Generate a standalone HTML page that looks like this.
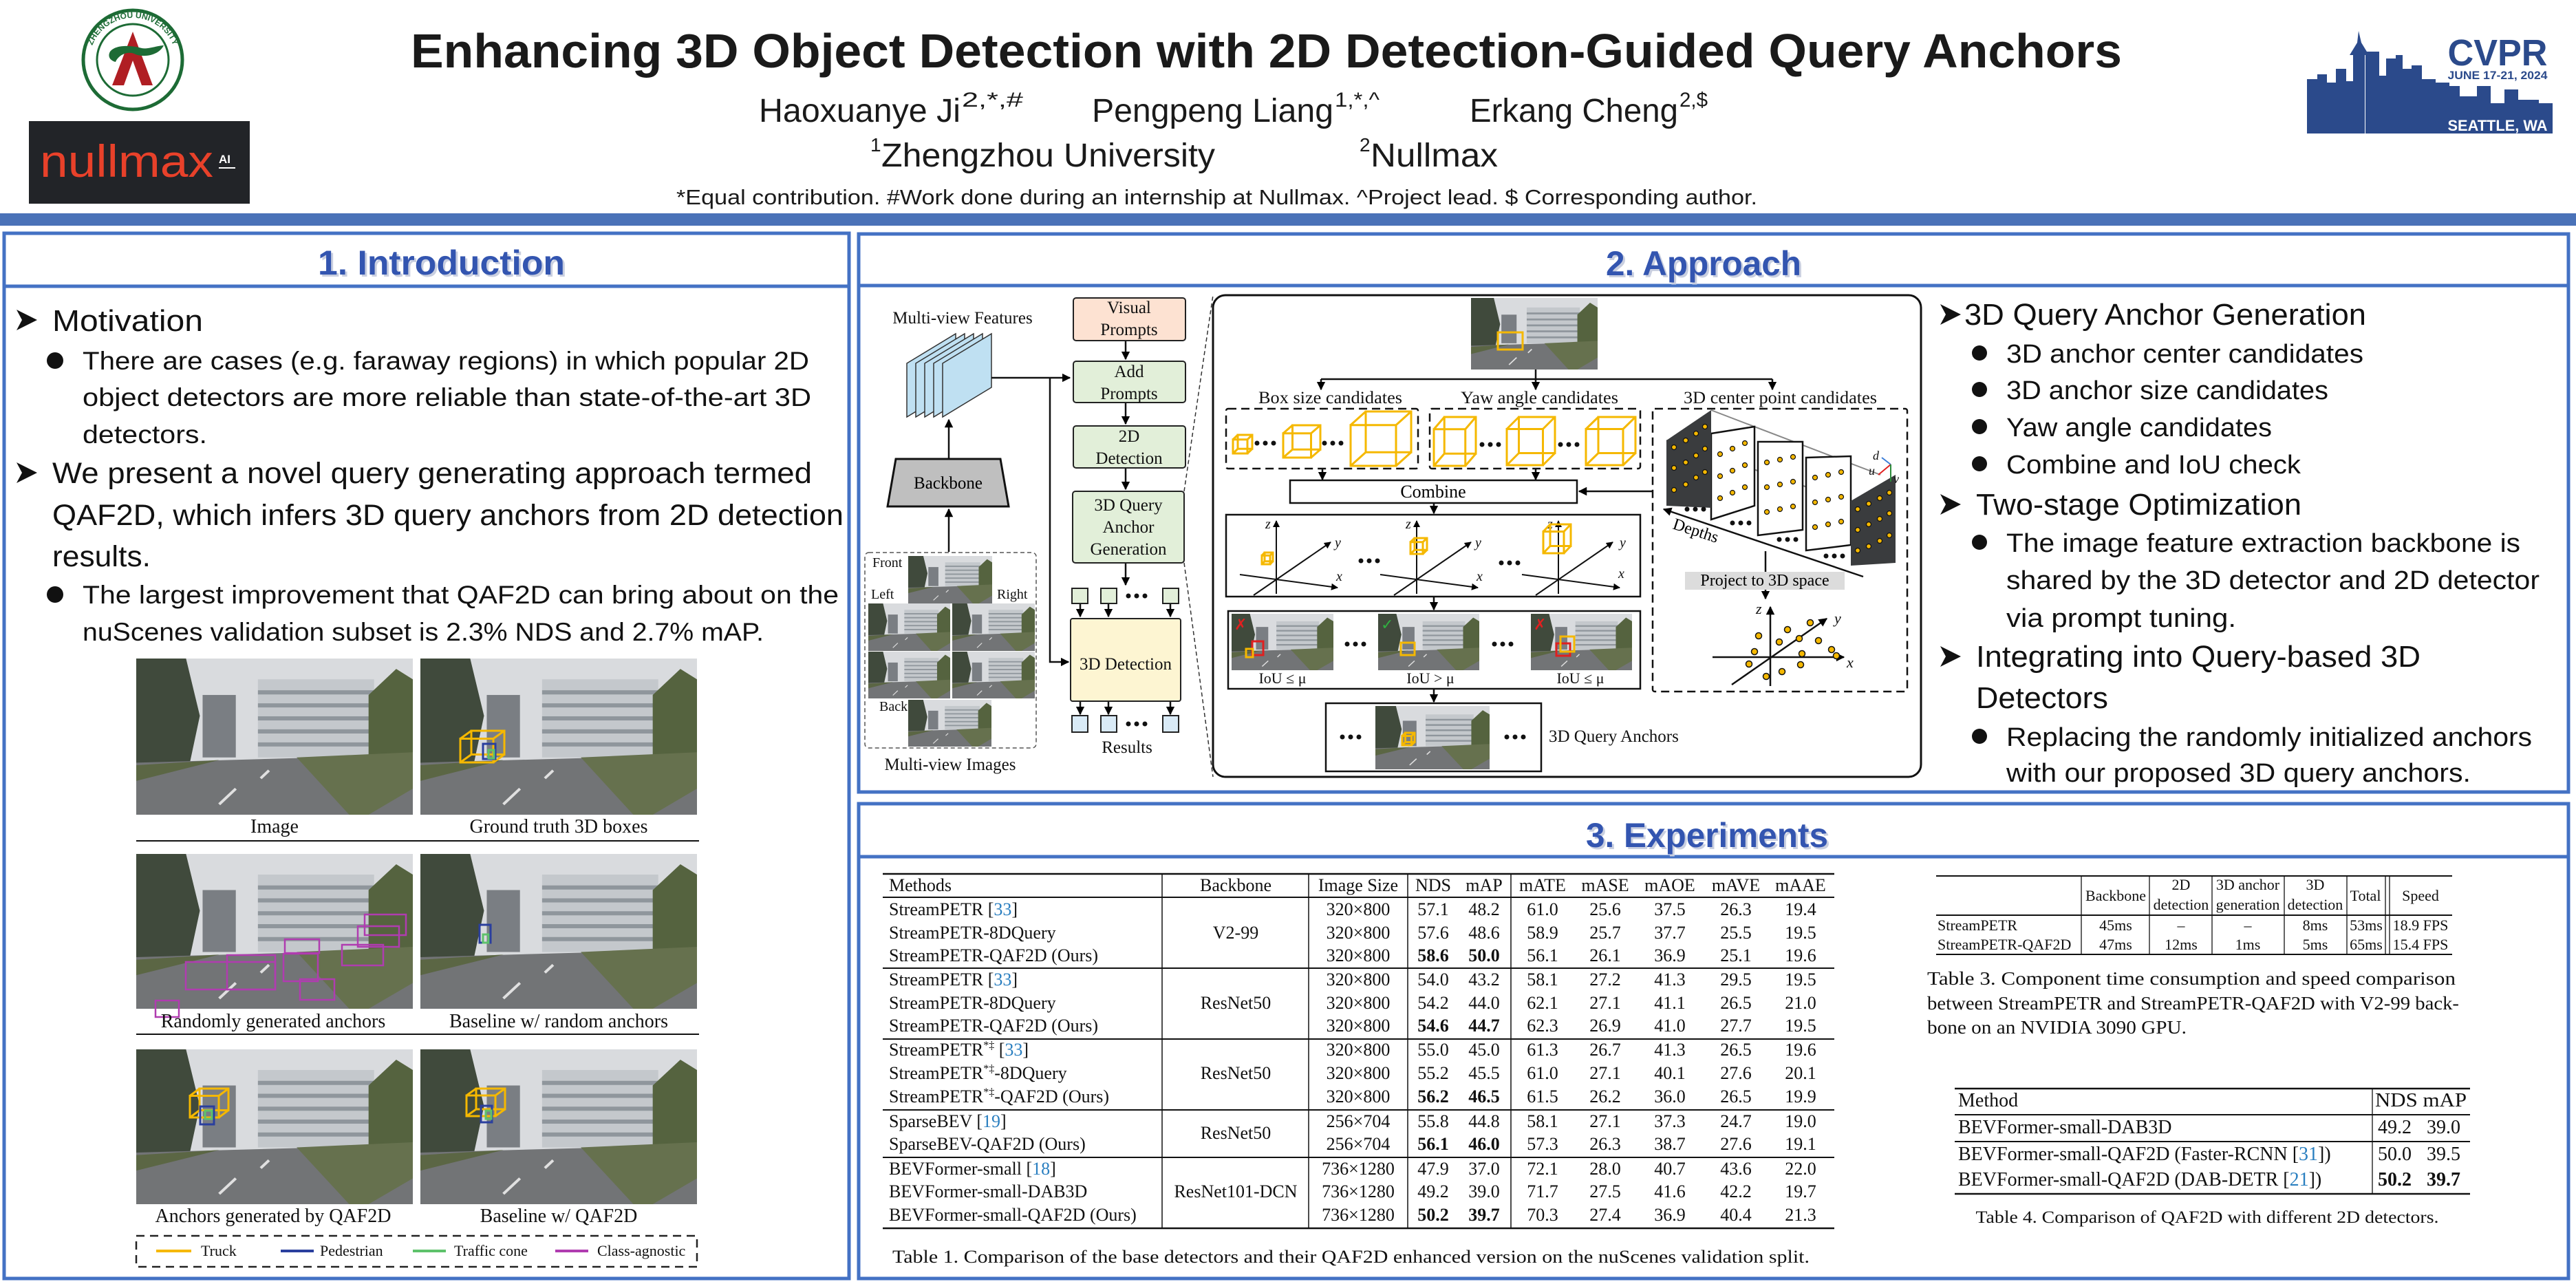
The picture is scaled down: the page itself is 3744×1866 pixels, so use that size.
<!DOCTYPE html>
<html><head><meta charset="utf-8"><style>html,body{margin:0;padding:0;background:#fff}svg{display:block}</style></head>
<body>
<svg xmlns="http://www.w3.org/2000/svg" xmlns:xlink="http://www.w3.org/1999/xlink" width="3744" height="1866" viewBox="0 0 3744 1866">
<defs>
<marker id="ah" viewBox="0 0 10 10" refX="9" refY="5" markerWidth="5" markerHeight="5" orient="auto-start-reverse"><path d="M0,0L10,5L0,10z" fill="#000"/></marker>
<symbol id="ph" viewBox="0 0 100 60" preserveAspectRatio="none">
<rect width="100" height="60" fill="#d9dbde"/>
<rect x="44" y="8" width="42" height="30" fill="#c4c8cc"/>
<path d="M44,13H86M44,18H86M44,23H86M44,28H86M44,33H86" stroke="#8f969c" stroke-width="1.6"/>
<rect x="24" y="14" width="12" height="24" fill="#7a7e83"/>
<path d="M0,0H18L23,22L19,42H0z" fill="#404a3c"/>
<path d="M84,14L94,4L100,8V40H84z" fill="#55633f"/>
<path d="M0,40L100,37V60H0z" fill="#727476"/>
<path d="M58,38L100,36V50L84,60H77z" fill="#66714e"/>
<path d="M0,41L30,39L0,47z" fill="#5b6644"/>
<path d="M30,56L36,50M45,46L48,43" stroke="#e0e0e0" stroke-width="1"/>
</symbol>
<g id="cube"><path d="M0,.25H.75V1H0Z M.25,0H1V.75H.25Z M0,.25L.25,0 M.75,.25L1,0 M0,1L.25,.75 M.75,1L1,.75" fill="none" stroke="#f5b800" stroke-width="3" vector-effect="non-scaling-stroke"/></g>
<g id="dots3"><circle cx="0" cy="0" r="3.5"/><circle cx="12" cy="0" r="3.5"/><circle cx="24" cy="0" r="3.5"/></g>
<path id="arc" d="M131,100A63,63 0 1 1 255,100"/>
</defs>

<!-- HEADER -->
<circle cx="193" cy="87" r="72" fill="#fff" stroke="#1d6b35" stroke-width="5"/>
<circle cx="193" cy="87" r="52" fill="none" stroke="#1d6b35" stroke-width="3"/>
<path d="M193,46L222,124H206L193,88L180,124H163z" fill="#b01e23"/>
<path d="M160,75C170,62,200,68,206,70C214,72,230,66,238,66C230,82,206,84,195,78C185,74,172,80,168,90C160,88,156,82,160,75z" fill="#1d6b35"/>
<text font-family="Liberation Sans, sans-serif" font-size="12" font-weight="bold" fill="#1d6b35"><textPath href="#arc" startOffset="50%" text-anchor="middle">ZHENGZHOU UNIVERSITY</textPath></text>
<rect x="42" y="176" width="321" height="120" fill="#222428"/>
<text x="58" y="257" font-family="Liberation Sans, sans-serif" font-size="66" fill="#e8412a" textLength="252" lengthAdjust="spacingAndGlyphs">nullmax</text>
<text x="318" y="237" font-family="Liberation Sans, sans-serif" font-size="17" font-weight="bold" fill="#fff">AI</text>
<rect x="318" y="243" width="24" height="2" fill="#fff"/>

<g fill="#2b4a8b">
<path d="M3353,194V115H3368V108H3382V120H3395V100H3410V118H3420V80H3415L3426,62L3428,45L3432,62L3443,80H3437V194z"/>
<path d="M3438,194V75H3458V110H3468V85H3482V80H3492V100H3505V95H3520V115H3540V120H3560V125H3575V140H3600V125H3620V150H3640V130H3660V145H3690V150H3710V194z"/>
</g>
<text x="3630" y="95" font-family="Liberation Sans, sans-serif" font-size="54" font-weight="bold" fill="#2b4a8b" text-anchor="middle" textLength="145" lengthAdjust="spacingAndGlyphs">CVPR</text>
<rect x="3555" y="98" width="150" height="22" fill="#fff"/>
<text x="3630" y="115" font-family="Liberation Sans, sans-serif" font-size="17" font-weight="bold" fill="#2b4a8b" text-anchor="middle" textLength="145" lengthAdjust="spacingAndGlyphs">JUNE 17-21, 2024</text>
<text x="3630" y="190" font-family="Liberation Sans, sans-serif" font-size="22" font-weight="bold" fill="#fff" text-anchor="middle" textLength="145" lengthAdjust="spacingAndGlyphs">SEATTLE, WA</text>

<text x="597" y="98" font-family="Liberation Sans, sans-serif" font-size="70" font-weight="bold" fill="#1a1a1a" textLength="2487" lengthAdjust="spacingAndGlyphs">Enhancing 3D Object Detection with 2D Detection-Guided Query Anchors</text>
<g font-family="Liberation Sans, sans-serif" fill="#1a1a1a">
<text x="1103" y="177" font-size="48" textLength="293" lengthAdjust="spacingAndGlyphs">Haoxuanye Ji</text>
<text x="1398" y="155" font-size="30" textLength="89" lengthAdjust="spacingAndGlyphs">2,*,#</text>
<text x="1587" y="177" font-size="48" textLength="351" lengthAdjust="spacingAndGlyphs">Pengpeng Liang</text>
<text x="1940" y="155" font-size="30" textLength="65" lengthAdjust="spacingAndGlyphs">1,*,^</text>
<text x="2136" y="177" font-size="48" textLength="303" lengthAdjust="spacingAndGlyphs">Erkang Cheng</text>
<text x="2441" y="155" font-size="30" textLength="41" lengthAdjust="spacingAndGlyphs">2,$</text>
<text x="1265" y="220" font-size="28">1</text>
<text x="1281" y="242" font-size="48" textLength="485" lengthAdjust="spacingAndGlyphs">Zhengzhou University</text>
<text x="1976" y="220" font-size="28">2</text>
<text x="1992" y="242" font-size="48" textLength="185" lengthAdjust="spacingAndGlyphs">Nullmax</text>
<text x="983" y="297" font-size="31" textLength="1571" lengthAdjust="spacingAndGlyphs">*Equal contribution.    #Work done during an internship at Nullmax.    ^Project lead.    $ Corresponding author.</text>
</g>
<rect x="0" y="310" width="3744" height="18" fill="#4a72b8"/>

<!-- PANELS -->
<g fill="none" stroke="#4472c4" stroke-width="5">
<rect x="6" y="339" width="1228" height="1519"/>
<line x1="6" y1="416" x2="1234" y2="416"/>
<rect x="1248" y="340" width="2485" height="811"/>
<line x1="1248" y1="415" x2="3733" y2="415"/>
<rect x="1248" y="1168" width="2485" height="690"/>
<line x1="1248" y1="1245" x2="3733" y2="1245"/>
</g>
<g font-family="Liberation Sans, sans-serif" font-size="50" font-weight="bold">
<text x="465" y="402" fill="#c9cfe0" textLength="359" lengthAdjust="spacingAndGlyphs">1. Introduction</text>
<text x="462" y="399" fill="#3355b0" textLength="359" lengthAdjust="spacingAndGlyphs">1. Introduction</text>
<text x="2337" y="403" fill="#c9cfe0" textLength="284" lengthAdjust="spacingAndGlyphs">2. Approach</text>
<text x="2334" y="400" fill="#3355b0" textLength="284" lengthAdjust="spacingAndGlyphs">2. Approach</text>
<text x="2308" y="1234" fill="#c9cfe0" textLength="352" lengthAdjust="spacingAndGlyphs">3. Experiments</text>
<text x="2305" y="1231" fill="#3355b0" textLength="352" lengthAdjust="spacingAndGlyphs">3. Experiments</text>
</g>

<!-- INTRO TEXT -->
<g fill="#111">
<path d="M24,450L54,465L24,480L32,465z"/>
<path d="M24,672L54,687L24,702L32,687z"/>
<circle cx="80" cy="524" r="12"/>
<circle cx="80" cy="864" r="12"/>
</g>
<g font-family="Liberation Sans, sans-serif" fill="#111">
<text x="76" y="481" font-size="44" textLength="219" lengthAdjust="spacingAndGlyphs">Motivation</text>
<text x="120" y="537" font-size="37" textLength="1056" lengthAdjust="spacingAndGlyphs">There are cases (e.g. faraway regions) in which popular 2D</text>
<text x="120" y="590" font-size="37" textLength="1059" lengthAdjust="spacingAndGlyphs">object detectors are more reliable than state-of-the-art 3D</text>
<text x="120" y="644" font-size="37" textLength="181" lengthAdjust="spacingAndGlyphs">detectors.</text>
<text x="76" y="702" font-size="43" textLength="1104" lengthAdjust="spacingAndGlyphs">We present a novel query generating approach termed</text>
<text x="76" y="763" font-size="43" textLength="1150" lengthAdjust="spacingAndGlyphs">QAF2D, which infers 3D query anchors from 2D detection</text>
<text x="76" y="823" font-size="43" textLength="143" lengthAdjust="spacingAndGlyphs">results.</text>
<text x="120" y="877" font-size="37" textLength="1099" lengthAdjust="spacingAndGlyphs">The largest improvement that QAF2D can bring about on the</text>
<text x="120" y="931" font-size="37" textLength="990" lengthAdjust="spacingAndGlyphs">nuScenes validation subset is 2.3% NDS and 2.7% mAP.</text>
</g>

<!-- INTRO IMAGES -->
<use href="#ph" x="198" y="957" width="402" height="227"/>
<use href="#ph" x="611" y="957" width="402" height="227"/>
<use href="#ph" x="198" y="1241" width="402" height="225"/>
<use href="#ph" x="611" y="1241" width="402" height="225"/>
<use href="#ph" x="198" y="1525" width="402" height="225"/>
<use href="#ph" x="611" y="1525" width="402" height="225"/>
<use href="#cube" transform="translate(669,1062) scale(64,46)"/>
<rect x="702" y="1081" width="18" height="22" fill="none" stroke="#2a3f9e" stroke-width="3"/>
<rect x="710" y="1090" width="8" height="12" fill="none" stroke="#5ec26b" stroke-width="3"/>
<g fill="none" stroke="#b03cb0" stroke-width="2.5">
<rect x="226" y="1454" width="34" height="24"/><rect x="270" y="1398" width="130" height="40"/><rect x="330" y="1388" width="70" height="50"/><rect x="414" y="1365" width="50" height="20"/><rect x="412" y="1386" width="50" height="40"/><rect x="497" y="1373" width="60" height="30"/><rect x="530" y="1329" width="60" height="30"/><rect x="520" y="1346" width="60" height="30"/><rect x="436" y="1423" width="50" height="30"/>
</g>
<rect x="697" y="1344" width="16" height="26" fill="none" stroke="#2a3f9e" stroke-width="3"/>
<rect x="702" y="1358" width="8" height="12" fill="none" stroke="#5ec26b" stroke-width="3"/>
<use href="#cube" transform="translate(276,1582) scale(56,42)"/>
<rect x="291" y="1608" width="20" height="26" fill="none" stroke="#2a3f9e" stroke-width="3"/>
<rect x="298" y="1614" width="10" height="12" fill="none" stroke="#5ec26b" stroke-width="3"/>
<use href="#cube" transform="translate(678,1582) scale(56,40)"/>
<rect x="699" y="1607" width="16" height="24" fill="none" stroke="#2a3f9e" stroke-width="3"/>
<rect x="706" y="1614" width="8" height="12" fill="none" stroke="#5ec26b" stroke-width="3"/>
<g font-family="Liberation Serif, serif" font-size="28" fill="#111" text-anchor="middle">
<text x="399" y="1210">Image</text>
<text x="812" y="1210">Ground truth 3D boxes</text>
<text x="397" y="1493">Randomly generated anchors</text>
<text x="812" y="1493">Baseline w/ random anchors</text>
<text x="397" y="1776">Anchors generated by QAF2D</text>
<text x="812" y="1776">Baseline w/ QAF2D</text>
</g>
<g stroke="#111" stroke-width="2"><line x1="198" y1="1222" x2="1016" y2="1222"/><line x1="198" y1="1503" x2="1016" y2="1503"/></g>
<rect x="198" y="1796" width="815" height="45" fill="none" stroke="#222" stroke-width="2.5" stroke-dasharray="12,8"/>
<g stroke-width="4"><line x1="227" y1="1818" x2="278" y2="1818" stroke="#f5b800"/><line x1="408" y1="1818" x2="456" y2="1818" stroke="#2a3f9e"/><line x1="600" y1="1818" x2="648" y2="1818" stroke="#5ec26b"/><line x1="807" y1="1818" x2="855" y2="1818" stroke="#b03cb0"/></g>
<g font-family="Liberation Serif, serif" font-size="22" fill="#111"><text x="292" y="1825">Truck</text><text x="465" y="1825">Pedestrian</text><text x="660" y="1825">Traffic cone</text><text x="868" y="1825">Class-agnostic</text></g>

<!-- APPROACH LEFT DIAGRAM -->
<g font-family="Liberation Serif, serif" font-size="25" fill="#111" text-anchor="middle">
<text x="1399" y="470">Multi-view Features</text>
<text x="1381" y="1119">Multi-view Images</text>
<text x="1638" y="1094">Results</text>
</g>
<g fill="#bfe0f2" stroke="#333" stroke-width="1.5">
<path d="M1318,528L1389,485V563L1318,606z"/><path d="M1331,528L1402,485V563L1331,606z"/><path d="M1344,528L1415,485V563L1344,606z"/><path d="M1357,528L1428,485V563L1357,606z"/><path d="M1370,528L1441,485V563L1370,606z"/>
</g>
<path d="M1302,667H1454L1466,736H1290z" fill="#bfbfbf" stroke="#111" stroke-width="3"/>
<text x="1378" y="710" font-family="Liberation Serif, serif" font-size="25" text-anchor="middle">Backbone</text>
<g stroke="#111" stroke-width="2.5" fill="none">
<line x1="1379" y1="802" x2="1379" y2="740" marker-end="url(#ah)"/>
<line x1="1379" y1="667" x2="1379" y2="610" marker-end="url(#ah)"/>
<line x1="1441" y1="549" x2="1555" y2="549" marker-end="url(#ah)"/>
<polyline points="1526,549 1526,962 1553,962" marker-end="url(#ah)"/>
<line x1="1636" y1="495" x2="1636" y2="522" marker-end="url(#ah)"/>
<line x1="1636" y1="585" x2="1636" y2="616" marker-end="url(#ah)"/>
<line x1="1636" y1="680" x2="1636" y2="711" marker-end="url(#ah)"/>
<line x1="1636" y1="818" x2="1636" y2="850" marker-end="url(#ah)"/>
<line x1="1570" y1="877" x2="1570" y2="896" marker-end="url(#ah)"/>
<line x1="1611" y1="877" x2="1611" y2="896" marker-end="url(#ah)"/>
<line x1="1701" y1="877" x2="1701" y2="896" marker-end="url(#ah)"/>
<line x1="1570" y1="1019" x2="1570" y2="1038" marker-end="url(#ah)"/>
<line x1="1611" y1="1019" x2="1611" y2="1038" marker-end="url(#ah)"/>
<line x1="1701" y1="1019" x2="1701" y2="1038" marker-end="url(#ah)"/>
</g>
<rect x="1257" y="803" width="249" height="284" rx="6" fill="none" stroke="#555" stroke-width="1.5" stroke-dasharray="6,4"/>
<use href="#ph" x="1320" y="808" width="122" height="69"/>
<use href="#ph" x="1262" y="877" width="119" height="69"/>
<use href="#ph" x="1384" y="877" width="120" height="69"/>
<use href="#ph" x="1262" y="947" width="119" height="68"/>
<use href="#ph" x="1384" y="947" width="120" height="68"/>
<use href="#ph" x="1320" y="1017" width="121" height="68"/>
<g font-family="Liberation Serif, serif" font-size="20" fill="#111">
<text x="1268" y="824">Front</text><text x="1266" y="870">Left</text><text x="1449" y="870">Right</text><text x="1278" y="1033">Back</text>
</g>
<g stroke="#222" stroke-width="2">
<rect x="1560" y="433" width="163" height="62" rx="4" fill="#fde2d2"/>
<rect x="1560" y="525" width="163" height="60" rx="4" fill="#e2efd9"/>
<rect x="1560" y="619" width="163" height="61" rx="4" fill="#e2efd9"/>
<rect x="1559" y="714" width="162" height="104" rx="4" fill="#e2efd9"/>
<rect x="1556" y="899" width="160" height="120" rx="3" fill="#fdf5d2"/>
<rect x="1558" y="855" width="23" height="22" fill="#e2efd9"/><rect x="1600" y="855" width="23" height="22" fill="#e2efd9"/><rect x="1690" y="855" width="23" height="22" fill="#e2efd9"/>
<rect x="1558" y="1040" width="23" height="24" fill="#d9eaf6"/><rect x="1600" y="1040" width="23" height="24" fill="#d9eaf6"/><rect x="1690" y="1040" width="23" height="24" fill="#d9eaf6"/>
</g>
<g fill="#111"><use href="#dots3" x="1640" y="866"/><use href="#dots3" x="1640" y="1052"/></g>
<g font-family="Liberation Serif, serif" font-size="25" fill="#111" text-anchor="middle">
<text x="1641" y="455">Visual</text><text x="1641" y="487">Prompts</text>
<text x="1641" y="548">Add</text><text x="1641" y="580">Prompts</text>
<text x="1641" y="642">2D</text><text x="1641" y="674">Detection</text>
<text x="1640" y="742">3D Query</text><text x="1640" y="774">Anchor</text><text x="1640" y="806">Generation</text>
<text x="1636" y="973">3D Detection</text>
</g>
<g stroke="#333" stroke-width="1.5" stroke-dasharray="6,4"><line x1="1721" y1="714" x2="1763" y2="429"/><line x1="1721" y1="818" x2="1763" y2="1129"/></g>

<!-- APPROACH RIGHT DIAGRAM -->
<rect x="1763" y="429" width="1029" height="700" rx="18" fill="none" stroke="#111" stroke-width="3"/>
<use href="#ph" x="2138" y="433" width="184" height="104"/>
<rect x="2177" y="483" width="36" height="25" fill="none" stroke="#f5b800" stroke-width="3"/>
<g stroke="#111" stroke-width="2.5" fill="none">
<line x1="2232" y1="537" x2="2232" y2="551"/>
<line x1="1920" y1="551" x2="2576" y2="551"/>
<line x1="1920" y1="551" x2="1920" y2="566" marker-end="url(#ah)"/>
<line x1="2232" y1="551" x2="2232" y2="566" marker-end="url(#ah)"/>
<line x1="2576" y1="551" x2="2576" y2="566" marker-end="url(#ah)"/>
<line x1="1922" y1="681" x2="1922" y2="697" marker-end="url(#ah)"/>
<line x1="2232" y1="681" x2="2232" y2="697" marker-end="url(#ah)"/>
<line x1="2402" y1="714" x2="2295" y2="714" marker-end="url(#ah)"/>
<line x1="2084" y1="731" x2="2084" y2="746" marker-end="url(#ah)"/>
<line x1="2084" y1="867" x2="2084" y2="886" marker-end="url(#ah)"/>
<line x1="2084" y1="1001" x2="2084" y2="1020" marker-end="url(#ah)"/>
<line x1="2566" y1="801" x2="2566" y2="831"/>
<line x1="2566" y1="857" x2="2566" y2="870" marker-end="url(#ah)"/>
</g>
<g font-family="Liberation Serif, serif" font-size="25" fill="#111">
<text x="1829" y="586" textLength="209" lengthAdjust="spacingAndGlyphs">Box size candidates</text>
<text x="2123" y="586" textLength="229" lengthAdjust="spacingAndGlyphs">Yaw angle candidates</text>
<text x="2447" y="586" textLength="281" lengthAdjust="spacingAndGlyphs">3D center point candidates</text>
</g>
<g fill="none" stroke="#111" stroke-width="2.5" stroke-dasharray="12,7">
<rect x="1782" y="594" width="279" height="87" rx="3"/>
<rect x="2078" y="594" width="306" height="87" rx="3"/>
<rect x="2402" y="594" width="370" height="411" rx="3"/>
</g>
<use href="#cube" transform="translate(1792,632) scale(28,27)"/>
<use href="#cube" transform="translate(1865,618) scale(54,47)"/>
<use href="#cube" transform="translate(1963,598) scale(88,79)"/>
<use href="#cube" transform="translate(2084,606) scale(61,71)"/>
<use href="#cube" transform="translate(2190,606) scale(70,70)"/>
<use href="#cube" transform="translate(2305,606) scale(72,70)"/>
<g fill="#111"><use href="#dots3" x="1827" y="644"/><use href="#dots3" x="1925" y="644"/><use href="#dots3" x="2154" y="646"/><use href="#dots3" x="2268" y="646"/></g>
<rect x="1875" y="698" width="417" height="33" fill="#fff" stroke="#111" stroke-width="2.5"/>
<text x="2083" y="723" font-family="Liberation Serif, serif" font-size="26" text-anchor="middle">Combine</text>
<rect x="1782" y="748" width="602" height="119" fill="none" stroke="#111" stroke-width="2.5"/>
<g id="ax" stroke="#111" stroke-width="2" fill="none">
<line x1="1855" y1="863" x2="1855" y2="757" marker-end="url(#ah)"/>
<line x1="1802" y1="835" x2="1944" y2="854" marker-end="url(#ah)"/>
<line x1="1822" y1="865" x2="1934" y2="788" marker-end="url(#ah)"/>
</g>
<use href="#ax" x="204"/><use href="#ax" x="410"/>
<g font-family="Liberation Serif, serif" font-style="italic" font-size="20" fill="#111">
<text x="1839" y="768">z</text><text x="1940" y="795">y</text><text x="1942" y="844">x</text>
<text x="2043" y="768">z</text><text x="2144" y="795">y</text><text x="2146" y="844">x</text>
<text x="2249" y="768">z</text><text x="2354" y="795">y</text><text x="2352" y="840">x</text>
</g>
<use href="#cube" transform="translate(1834,803) scale(16,17)"/>
<use href="#cube" transform="translate(2050,782) scale(24,23)"/>
<use href="#cube" transform="translate(2243,762) scale(40,42)"/>
<g fill="#111"><use href="#dots3" x="1978" y="815"/><use href="#dots3" x="2182" y="818"/></g>
<rect x="1785" y="888" width="599" height="113" fill="none" stroke="#111" stroke-width="2.5"/>
<use href="#ph" x="1790" y="892" width="148" height="82"/>
<use href="#ph" x="2003" y="892" width="147" height="82"/>
<use href="#ph" x="2225" y="892" width="147" height="82"/>
<rect x="1820" y="932" width="16" height="20" fill="none" stroke="#e02020" stroke-width="3"/>
<rect x="1811" y="943" width="10" height="12" fill="none" stroke="#f5b800" stroke-width="3"/>
<rect x="2036" y="934" width="20" height="18" fill="none" stroke="#f5b800" stroke-width="3"/>
<rect x="2262" y="935" width="20" height="18" fill="none" stroke="#e02020" stroke-width="3"/>
<rect x="2268" y="925" width="20" height="22" fill="none" stroke="#f5b800" stroke-width="3"/>
<g font-family="DejaVu Sans, sans-serif" font-size="22" font-weight="bold"><text x="1794" y="915" fill="#e02020">✗</text><text x="2007" y="915" fill="#30b040">✓</text><text x="2229" y="915" fill="#e02020">✗</text></g>
<g fill="#111"><use href="#dots3" x="1958" y="936"/><use href="#dots3" x="2172" y="936"/></g>
<g font-family="Liberation Serif, 'DejaVu Sans', serif" font-size="22" fill="#111" text-anchor="middle">
<text x="1864" y="993">IoU ≤ μ</text><text x="2079" y="993">IoU &gt; μ</text><text x="2297" y="993">IoU ≤ μ</text>
</g>
<rect x="1927" y="1022" width="313" height="99" fill="none" stroke="#111" stroke-width="2.5"/>
<use href="#ph" x="1999" y="1026" width="166" height="92"/>
<use href="#cube" transform="translate(2038,1065) scale(18,18)"/>
<g fill="#111"><use href="#dots3" x="1951" y="1071"/><use href="#dots3" x="2190" y="1071"/></g>
<text x="2251" y="1078" font-family="Liberation Serif, serif" font-size="25" fill="#111">3D Query Anchors</text>

<!-- 3D center candidates -->
<g stroke="#888" stroke-width="2" fill="none">
<line x1="2487" y1="596" x2="2733" y2="690"/>
<line x1="2422" y1="640" x2="2690" y2="729"/>
</g>
<g stroke="#111" stroke-width="2.5" fill="#fff">
<path d="M2487,630L2550,620V735L2487,755z"/>
<path d="M2555,642L2620,642V770L2555,778z"/>
<path d="M2625,665L2690,663V792L2625,800z"/>
</g>
<path d="M2422,640L2487,596V738L2422,735z" fill="#3a3c3e"/>
<path d="M2690,728L2755,690V818L2690,822z" fill="#3a3c3e"/>
<g fill="#f5b800" stroke="#111" stroke-width="1.2">
<circle cx="2433" cy="650" r="3.5"/><circle cx="2450" cy="640" r="3.5"/><circle cx="2465" cy="630" r="3.5"/><circle cx="2478" cy="620" r="3.5"/><circle cx="2433" cy="680" r="3.5"/><circle cx="2450" cy="672" r="3.5"/><circle cx="2465" cy="662" r="3.5"/><circle cx="2478" cy="652" r="3.5"/><circle cx="2433" cy="712" r="3.5"/><circle cx="2450" cy="704" r="3.5"/><circle cx="2465" cy="694" r="3.5"/><circle cx="2478" cy="686" r="3.5"/>
<circle cx="2500" cy="660" r="3.5"/><circle cx="2518" cy="652" r="3.5"/><circle cx="2536" cy="644" r="3.5"/><circle cx="2500" cy="692" r="3.5"/><circle cx="2518" cy="684" r="3.5"/><circle cx="2536" cy="676" r="3.5"/><circle cx="2500" cy="724" r="3.5"/><circle cx="2518" cy="716" r="3.5"/><circle cx="2536" cy="708" r="3.5"/>
<circle cx="2568" cy="672" r="3.5"/><circle cx="2587" cy="668" r="3.5"/><circle cx="2606" cy="664" r="3.5"/><circle cx="2568" cy="708" r="3.5"/><circle cx="2587" cy="704" r="3.5"/><circle cx="2606" cy="700" r="3.5"/><circle cx="2568" cy="744" r="3.5"/><circle cx="2587" cy="740" r="3.5"/><circle cx="2606" cy="736" r="3.5"/>
<circle cx="2638" cy="694" r="3.5"/><circle cx="2657" cy="690" r="3.5"/><circle cx="2676" cy="686" r="3.5"/><circle cx="2638" cy="730" r="3.5"/><circle cx="2657" cy="726" r="3.5"/><circle cx="2676" cy="722" r="3.5"/><circle cx="2638" cy="766" r="3.5"/><circle cx="2657" cy="762" r="3.5"/><circle cx="2676" cy="758" r="3.5"/>
<circle cx="2700" cy="740" r="3.5"/><circle cx="2716" cy="732" r="3.5"/><circle cx="2732" cy="724" r="3.5"/><circle cx="2746" cy="716" r="3.5"/><circle cx="2700" cy="770" r="3.5"/><circle cx="2716" cy="762" r="3.5"/><circle cx="2732" cy="754" r="3.5"/><circle cx="2746" cy="746" r="3.5"/><circle cx="2700" cy="800" r="3.5"/><circle cx="2716" cy="794" r="3.5"/><circle cx="2732" cy="786" r="3.5"/><circle cx="2746" cy="778" r="3.5"/>
</g>
<line x1="2708" y1="838" x2="2418" y2="740" stroke="#111" stroke-width="2.5" marker-end="url(#ah)"/>
<text x="2430" y="768" font-family="Liberation Serif, serif" font-size="24" transform="rotate(18 2430 768)">Depths</text>
<g fill="#111"><use href="#dots3" x="2452" y="740"/><use href="#dots3" x="2518" y="760"/><use href="#dots3" x="2586" y="784"/><use href="#dots3" x="2654" y="808"/></g>
<rect x="2449" y="831" width="232" height="26" fill="#dcdcdc"/>
<text x="2565" y="851" font-family="Liberation Serif, serif" font-size="24" text-anchor="middle">Project to 3D space</text>
<g stroke="#111" stroke-width="2.5" fill="none">
<line x1="2573" y1="997" x2="2573" y2="882" marker-end="url(#ah)"/>
<line x1="2489" y1="955" x2="2680" y2="955" marker-end="url(#ah)"/>
<line x1="2517" y1="995" x2="2655" y2="899" marker-end="url(#ah)"/>
</g>
<g font-family="Liberation Serif, serif" font-style="italic" font-size="22" fill="#111"><text x="2552" y="892">z</text><text x="2666" y="906">y</text><text x="2684" y="970">x</text></g>
<g fill="#f5b800" stroke="#111" stroke-width="1.5">
<circle cx="2556" cy="924" r="4.5"/><circle cx="2550" cy="947" r="4.5"/><circle cx="2598" cy="915" r="4.5"/><circle cx="2586" cy="933" r="4.5"/><circle cx="2615" cy="928" r="4.5"/><circle cx="2631" cy="905" r="4.5"/><circle cx="2643" cy="931" r="4.5"/><circle cx="2619" cy="950" r="4.5"/><circle cx="2662" cy="944" r="4.5"/><circle cx="2669" cy="953" r="4.5"/><circle cx="2542" cy="965" r="4.5"/><circle cx="2617" cy="966" r="4.5"/><circle cx="2590" cy="976" r="4.5"/><circle cx="2567" cy="983" r="4.5"/>
</g>
<g stroke-width="2" fill="none"><line x1="2748" y1="675" x2="2735" y2="665" stroke="#3b7dd8"/><line x1="2748" y1="675" x2="2730" y2="690" stroke="#e02020"/><line x1="2748" y1="675" x2="2748" y2="700" stroke="#2a8a3a"/></g>
<g font-family="Liberation Serif, serif" font-style="italic" font-size="18" fill="#111"><text x="2722" y="668">d</text><text x="2716" y="690">u</text><text x="2752" y="702">v</text></g>

<!-- APPROACH RIGHT TEXT -->
<g fill="#111">
<path d="M2820,442L2850,457L2820,472L2828,457z"/>
<path d="M2820,718L2850,733L2820,748L2828,733z"/>
<path d="M2820,939L2850,954L2820,969L2828,954z"/>
<circle cx="2877" cy="513" r="11"/><circle cx="2877" cy="566" r="11"/><circle cx="2877" cy="620" r="11"/><circle cx="2877" cy="674" r="11"/><circle cx="2877" cy="788" r="11"/><circle cx="2877" cy="1070" r="11"/>
</g>
<g font-family="Liberation Sans, sans-serif" fill="#111">
<text x="2855" y="472" font-size="44" textLength="584" lengthAdjust="spacingAndGlyphs">3D Query Anchor Generation</text>
<text x="2916" y="527" font-size="38" textLength="519" lengthAdjust="spacingAndGlyphs">3D anchor center candidates</text>
<text x="2916" y="580" font-size="38" textLength="468" lengthAdjust="spacingAndGlyphs">3D anchor size candidates</text>
<text x="2916" y="634" font-size="38" textLength="386" lengthAdjust="spacingAndGlyphs">Yaw angle candidates</text>
<text x="2916" y="688" font-size="38" textLength="428" lengthAdjust="spacingAndGlyphs">Combine and IoU check</text>
<text x="2872" y="748" font-size="44" textLength="473" lengthAdjust="spacingAndGlyphs">Two-stage Optimization</text>
<text x="2916" y="802" font-size="38" textLength="747" lengthAdjust="spacingAndGlyphs">The image feature extraction backbone is</text>
<text x="2916" y="856" font-size="38" textLength="775" lengthAdjust="spacingAndGlyphs">shared by the 3D detector and 2D detector</text>
<text x="2916" y="911" font-size="38" textLength="334" lengthAdjust="spacingAndGlyphs">via prompt tuning.</text>
<text x="2872" y="969" font-size="44" textLength="646" lengthAdjust="spacingAndGlyphs">Integrating into Query-based 3D</text>
<text x="2872" y="1029" font-size="44" textLength="192" lengthAdjust="spacingAndGlyphs">Detectors</text>
<text x="2916" y="1084" font-size="38" textLength="764" lengthAdjust="spacingAndGlyphs">Replacing the randomly initialized anchors</text>
<text x="2916" y="1136" font-size="38" textLength="675" lengthAdjust="spacingAndGlyphs">with our proposed 3D query anchors.</text>
</g>

<!-- TABLE 1 -->
<g stroke="#111">
<line x1="1283" y1="1270" x2="2666" y2="1270" stroke-width="2.5"/>
<line x1="1283" y1="1304" x2="2666" y2="1304" stroke-width="2"/>
<line x1="1283" y1="1407" x2="2666" y2="1407" stroke-width="2"/>
<line x1="1283" y1="1510" x2="2666" y2="1510" stroke-width="2"/>
<line x1="1283" y1="1613" x2="2666" y2="1613" stroke-width="2"/>
<line x1="1283" y1="1682" x2="2666" y2="1682" stroke-width="2"/>
<line x1="1283" y1="1785" x2="2666" y2="1785" stroke-width="2.5"/>
<g stroke-width="1.5"><line x1="1689" y1="1270" x2="1689" y2="1785"/><line x1="1902" y1="1270" x2="1902" y2="1785"/><line x1="2046" y1="1270" x2="2046" y2="1785"/><line x1="2196" y1="1270" x2="2196" y2="1785"/></g>
</g>
<g font-family="Liberation Serif, serif" font-size="26" fill="#111">
<g>
<text x="1292" y="1295">Methods</text>
<text x="1292" y="1330">StreamPETR [<tspan fill="#2a7fc0">33</tspan>]</text>
<text x="1292" y="1364">StreamPETR-8DQuery</text>
<text x="1292" y="1397">StreamPETR-QAF2D (Ours)</text>
<text x="1292" y="1432">StreamPETR [<tspan fill="#2a7fc0">33</tspan>]</text>
<text x="1292" y="1466">StreamPETR-8DQuery</text>
<text x="1292" y="1499">StreamPETR-QAF2D (Ours)</text>
<text x="1292" y="1534">StreamPETR<tspan font-size="16" dy="-10">*‡</tspan><tspan dy="10"> [</tspan><tspan fill="#2a7fc0">33</tspan>]</text>
<text x="1292" y="1568">StreamPETR<tspan font-size="16" dy="-10">*‡</tspan><tspan dy="10">-8DQuery</tspan></text>
<text x="1292" y="1602">StreamPETR<tspan font-size="16" dy="-10">*‡</tspan><tspan dy="10">-QAF2D (Ours)</tspan></text>
<text x="1292" y="1638">SparseBEV [<tspan fill="#2a7fc0">19</tspan>]</text>
<text x="1292" y="1671">SparseBEV-QAF2D (Ours)</text>
<text x="1292" y="1707">BEVFormer-small [<tspan fill="#2a7fc0">18</tspan>]</text>
<text x="1292" y="1740">BEVFormer-small-DAB3D</text>
<text x="1292" y="1774">BEVFormer-small-QAF2D (Ours)</text>
</g>
<g text-anchor="middle">
<text x="1796" y="1295">Backbone</text><text x="1974" y="1295">Image Size</text><text x="2083" y="1295">NDS</text><text x="2157" y="1295">mAP</text><text x="2242" y="1295">mATE</text><text x="2333" y="1295">mASE</text><text x="2427" y="1295">mAOE</text><text x="2523" y="1295">mAVE</text><text x="2617" y="1295">mAAE</text>
<text x="1796" y="1364">V2-99</text><text x="1796" y="1466">ResNet50</text><text x="1796" y="1568">ResNet50</text><text x="1796" y="1655">ResNet50</text><text x="1796" y="1740">ResNet101-DCN</text>
<text x="1974" y="1330">320×800</text><text x="1974" y="1364">320×800</text><text x="1974" y="1397">320×800</text><text x="1974" y="1432">320×800</text><text x="1974" y="1466">320×800</text><text x="1974" y="1499">320×800</text><text x="1974" y="1534">320×800</text><text x="1974" y="1568">320×800</text><text x="1974" y="1602">320×800</text><text x="1974" y="1638">256×704</text><text x="1974" y="1671">256×704</text><text x="1974" y="1707">736×1280</text><text x="1974" y="1740">736×1280</text><text x="1974" y="1774">736×1280</text>
</g>
<g text-anchor="middle">
<text y="1330"><tspan x="2083">57.1</tspan><tspan x="2157">48.2</tspan><tspan x="2242">61.0</tspan><tspan x="2333">25.6</tspan><tspan x="2427">37.5</tspan><tspan x="2523">26.3</tspan><tspan x="2617">19.4</tspan></text>
<text y="1364"><tspan x="2083">57.6</tspan><tspan x="2157">48.6</tspan><tspan x="2242">58.9</tspan><tspan x="2333">25.7</tspan><tspan x="2427">37.7</tspan><tspan x="2523">25.5</tspan><tspan x="2617">19.5</tspan></text>
<text y="1397"><tspan x="2083" font-weight="bold">58.6</tspan><tspan x="2157" font-weight="bold">50.0</tspan><tspan x="2242">56.1</tspan><tspan x="2333">26.1</tspan><tspan x="2427">36.9</tspan><tspan x="2523">25.1</tspan><tspan x="2617">19.6</tspan></text>
<text y="1432"><tspan x="2083">54.0</tspan><tspan x="2157">43.2</tspan><tspan x="2242">58.1</tspan><tspan x="2333">27.2</tspan><tspan x="2427">41.3</tspan><tspan x="2523">29.5</tspan><tspan x="2617">19.5</tspan></text>
<text y="1466"><tspan x="2083">54.2</tspan><tspan x="2157">44.0</tspan><tspan x="2242">62.1</tspan><tspan x="2333">27.1</tspan><tspan x="2427">41.1</tspan><tspan x="2523">26.5</tspan><tspan x="2617">21.0</tspan></text>
<text y="1499"><tspan x="2083" font-weight="bold">54.6</tspan><tspan x="2157" font-weight="bold">44.7</tspan><tspan x="2242">62.3</tspan><tspan x="2333">26.9</tspan><tspan x="2427">41.0</tspan><tspan x="2523">27.7</tspan><tspan x="2617">19.5</tspan></text>
<text y="1534"><tspan x="2083">55.0</tspan><tspan x="2157">45.0</tspan><tspan x="2242">61.3</tspan><tspan x="2333">26.7</tspan><tspan x="2427">41.3</tspan><tspan x="2523">26.5</tspan><tspan x="2617">19.6</tspan></text>
<text y="1568"><tspan x="2083">55.2</tspan><tspan x="2157">45.5</tspan><tspan x="2242">61.0</tspan><tspan x="2333">27.1</tspan><tspan x="2427">40.1</tspan><tspan x="2523">27.6</tspan><tspan x="2617">20.1</tspan></text>
<text y="1602"><tspan x="2083" font-weight="bold">56.2</tspan><tspan x="2157" font-weight="bold">46.5</tspan><tspan x="2242">61.5</tspan><tspan x="2333">26.2</tspan><tspan x="2427">36.0</tspan><tspan x="2523">26.5</tspan><tspan x="2617">19.9</tspan></text>
<text y="1638"><tspan x="2083">55.8</tspan><tspan x="2157">44.8</tspan><tspan x="2242">58.1</tspan><tspan x="2333">27.1</tspan><tspan x="2427">37.3</tspan><tspan x="2523">24.7</tspan><tspan x="2617">19.0</tspan></text>
<text y="1671"><tspan x="2083" font-weight="bold">56.1</tspan><tspan x="2157" font-weight="bold">46.0</tspan><tspan x="2242">57.3</tspan><tspan x="2333">26.3</tspan><tspan x="2427">38.7</tspan><tspan x="2523">27.6</tspan><tspan x="2617">19.1</tspan></text>
<text y="1707"><tspan x="2083">47.9</tspan><tspan x="2157">37.0</tspan><tspan x="2242">72.1</tspan><tspan x="2333">28.0</tspan><tspan x="2427">40.7</tspan><tspan x="2523">43.6</tspan><tspan x="2617">22.0</tspan></text>
<text y="1740"><tspan x="2083">49.2</tspan><tspan x="2157">39.0</tspan><tspan x="2242">71.7</tspan><tspan x="2333">27.5</tspan><tspan x="2427">41.6</tspan><tspan x="2523">42.2</tspan><tspan x="2617">19.7</tspan></text>
<text y="1774"><tspan x="2083" font-weight="bold">50.2</tspan><tspan x="2157" font-weight="bold">39.7</tspan><tspan x="2242">70.3</tspan><tspan x="2333">27.4</tspan><tspan x="2427">36.9</tspan><tspan x="2523">40.4</tspan><tspan x="2617">21.3</tspan></text>
</g>
<text x="1297" y="1835" textLength="1333" lengthAdjust="spacingAndGlyphs">Table 1. Comparison of the base detectors and their QAF2D enhanced version on the nuScenes validation split.</text>
</g>

<!-- TABLE 3 -->
<g stroke="#111">
<line x1="2814" y1="1273" x2="3564" y2="1273" stroke-width="2"/>
<line x1="2814" y1="1330" x2="3564" y2="1330" stroke-width="2"/>
<line x1="2814" y1="1387" x2="3564" y2="1387" stroke-width="2"/>
<g stroke-width="1.3"><line x1="3025" y1="1273" x2="3025" y2="1387"/><line x1="3124" y1="1273" x2="3124" y2="1387"/><line x1="3215" y1="1273" x2="3215" y2="1387"/><line x1="3320" y1="1273" x2="3320" y2="1387"/><line x1="3411" y1="1273" x2="3411" y2="1387"/><line x1="3467" y1="1273" x2="3467" y2="1387"/><line x1="3473" y1="1273" x2="3473" y2="1387"/></g>
</g>
<g font-family="Liberation Serif, serif" font-size="22" fill="#111" text-anchor="middle">
<text x="3075" y="1309">Backbone</text><text x="3170" y="1293">2D</text><text x="3170" y="1322">detection</text><text x="3267" y="1293">3D anchor</text><text x="3267" y="1322">generation</text><text x="3365" y="1293">3D</text><text x="3365" y="1322">detection</text><text x="3438" y="1309">Total</text><text x="3518" y="1309">Speed</text>
<text y="1352"><tspan x="3075">45ms</tspan><tspan x="3170">–</tspan><tspan x="3267">–</tspan><tspan x="3365">8ms</tspan><tspan x="3439">53ms</tspan><tspan x="3518">18.9 FPS</tspan></text>
<text y="1380"><tspan x="3075">47ms</tspan><tspan x="3170">12ms</tspan><tspan x="3267">1ms</tspan><tspan x="3365">5ms</tspan><tspan x="3439">65ms</tspan><tspan x="3518">15.4 FPS</tspan></text>
</g>
<g font-family="Liberation Serif, serif" font-size="22" fill="#111"><text x="2816" y="1352">StreamPETR</text><text x="2816" y="1380">StreamPETR-QAF2D</text></g>
<g font-family="Liberation Serif, serif" font-size="27" fill="#111">
<text x="2801" y="1431" textLength="768" lengthAdjust="spacingAndGlyphs">Table 3.  Component time consumption and speed comparison</text>
<text x="2801" y="1467" textLength="773" lengthAdjust="spacingAndGlyphs">between StreamPETR and StreamPETR-QAF2D with V2-99 back-</text>
<text x="2801" y="1502" textLength="377" lengthAdjust="spacingAndGlyphs">bone on an NVIDIA 3090 GPU.</text>
</g>

<!-- TABLE 4 -->
<g stroke="#111">
<line x1="2841" y1="1582" x2="3590" y2="1582" stroke-width="2.5"/>
<line x1="2841" y1="1620" x2="3590" y2="1620" stroke-width="2"/>
<line x1="2841" y1="1659" x2="3590" y2="1659" stroke-width="2"/>
<line x1="2841" y1="1735" x2="3590" y2="1735" stroke-width="2.5"/>
<line x1="3448" y1="1582" x2="3448" y2="1735" stroke-width="1.3"/>
</g>
<g font-family="Liberation Serif, serif" font-size="28" fill="#111">
<text x="2846" y="1608">Method</text><text x="3452" y="1608" textLength="133" lengthAdjust="spacingAndGlyphs">NDS mAP</text>
<text x="2846" y="1647">BEVFormer-small-DAB3D</text>
<text x="2846" y="1686">BEVFormer-small-QAF2D (Faster-RCNN [<tspan fill="#2a7fc0">31</tspan>])</text>
<text x="2846" y="1723">BEVFormer-small-QAF2D (DAB-DETR [<tspan fill="#2a7fc0">21</tspan>])</text>
<text x="3456" y="1647">49.2</text><text x="3527" y="1647">39.0</text>
<text x="3456" y="1686">50.0</text><text x="3527" y="1686">39.5</text>
<text x="3456" y="1723" font-weight="bold">50.2</text><text x="3527" y="1723" font-weight="bold">39.7</text>
<text x="3208" y="1777" font-size="25" text-anchor="middle" textLength="673" lengthAdjust="spacingAndGlyphs">Table 4. Comparison of QAF2D with different 2D detectors.</text>
</g>
</svg>
</body></html>
